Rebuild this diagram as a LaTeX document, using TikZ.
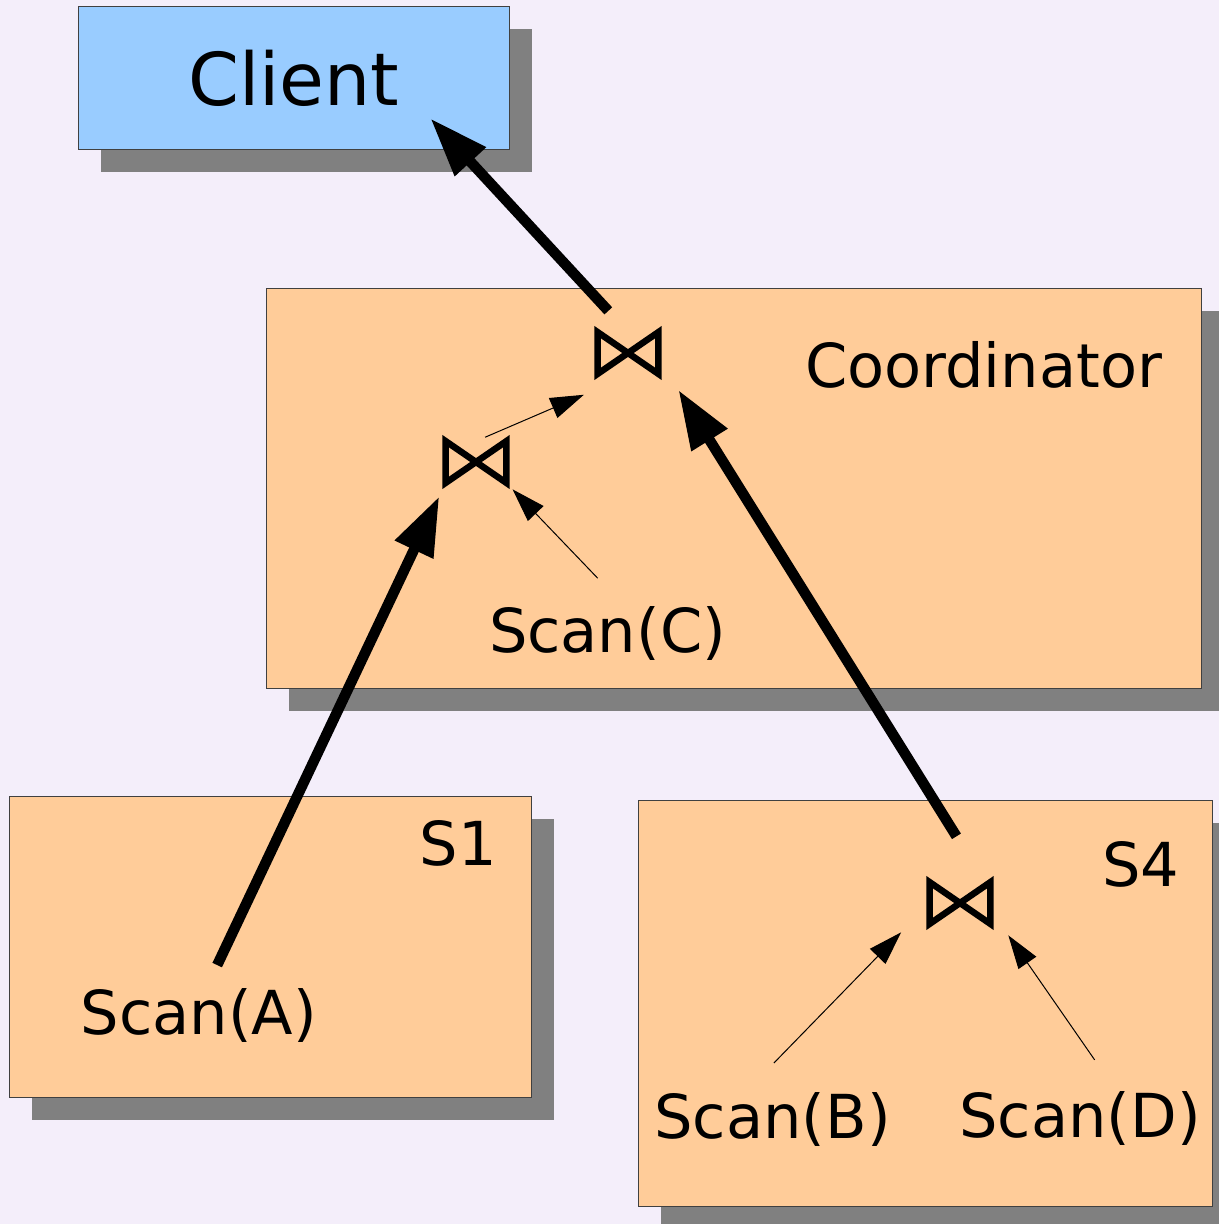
\documentclass[tikz,border=0pt]{standalone}
\usepackage{fontspec}
\setmainfont{DejaVu Sans}
\usetikzlibrary{arrows.meta,shadows}
\definecolor{bgcol}{HTML}{F4EEFA}
\definecolor{clientfill}{HTML}{99CCFF}
\definecolor{sitefill}{HTML}{FFCC99}
\definecolor{shadowgray}{HTML}{808080}

\begin{document}
\begin{tikzpicture}[x=0.02cm,y=-0.02cm,
  sitebox/.style={draw=black!75, line width=0.02cm, fill=sitefill, inner sep=0pt,
    drop shadow={shadow xshift=0.45cm, shadow yshift=-0.45cm, fill=shadowgray, opacity=1}},
  lbl/.style={font=\fontsize{34.5}{40}\selectfont, inner sep=0pt, anchor=base},
  joinbox/.style={minimum width=1.2cm, minimum height=0.82cm, inner sep=0pt},
  bigarrow/.style={-{Triangle[length=1.18cm,width=0.8cm]}, line width=0.21cm},
  smallarrow/.style={-{Triangle[length=0.67cm,width=0.43cm]}, line width=0.02cm}]
\useasboundingbox (0,0) rectangle (1219,1224);
\clip (0,0) rectangle (1219,1224);
\fill[bgcol] (0,0) rectangle (1219,1224);
% sites
\node[sitebox, fill=clientfill, minimum width=8.64cm, minimum height=2.88cm,
  font=\fontsize{41.5}{48}\selectfont] (client) at (294,78) {Client};
\node[sitebox, minimum width=18.72cm, minimum height=8.02cm] (coord) at (734,488.5) {};
\node[sitebox, minimum width=10.46cm, minimum height=6.04cm] (s1) at (270.5,947) {};
\node[sitebox, minimum width=11.5cm, minimum height=8.14cm] (s4) at (925.5,1003.5) {};
\node[lbl] (coordname) at (983.5,387) {Coordinator};
\node[lbl] (s1name) at (458.5,865) {S1};
\node[lbl] (s4name) at (1141,886) {S4};
% scans
\node[lbl] (scanA) at (199,1034) {Scan(A)};
\node[lbl] (scanB) at (772.5,1138) {Scan(B)};
\node[lbl] (scanC) at (607.5,652) {Scan(C)};
\node[lbl] (scanD) at (1080,1137) {Scan(D)};
% joins
\node[joinbox] (j0) at (628,353) {};
\node[joinbox] (j1) at (476,462) {};
\node[joinbox] (j2) at (960,903) {};
\foreach \j in {j0,j1,j2}
  \draw[line width=0.13cm] (\j.north west) -- (\j.south east) -- (\j.north east) -- (\j.south west) -- cycle;
% data flow
\draw[bigarrow, shorten <=0.58cm] (j0.north) -- ([xshift=-1.6cm,yshift=0.64cm]client.south east);
\draw[smallarrow, shorten <=0.2cm, shorten >=0.3cm] (j1.north) -- ([yshift=-0.3cm]j0.south west);
\draw[smallarrow, shorten <=0.76cm, shorten >=0.18cm] ([xshift=0.33cm]scanC.north) -- (j1.south east);
\draw[bigarrow, shorten <=0.5cm, shorten >=0.3cm] ([xshift=0.15cm]scanA.north) -- (j1.south west);
\draw[bigarrow, shorten <=1.08cm, shorten >=0.38cm] ([xshift=0.5cm]j2.north) -- ([xshift=0.2cm]j0.south east);
\draw[smallarrow, shorten <=0.8cm, shorten >=0.82cm] ([xshift=-0.53cm]scanB.north) -- (j2.west);
\draw[smallarrow, shorten <=0.75cm, shorten >=0.28cm] ([xshift=0.72cm]scanD.north) -- ([xshift=0.2cm]j2.south east);
\end{tikzpicture}
\end{document}
